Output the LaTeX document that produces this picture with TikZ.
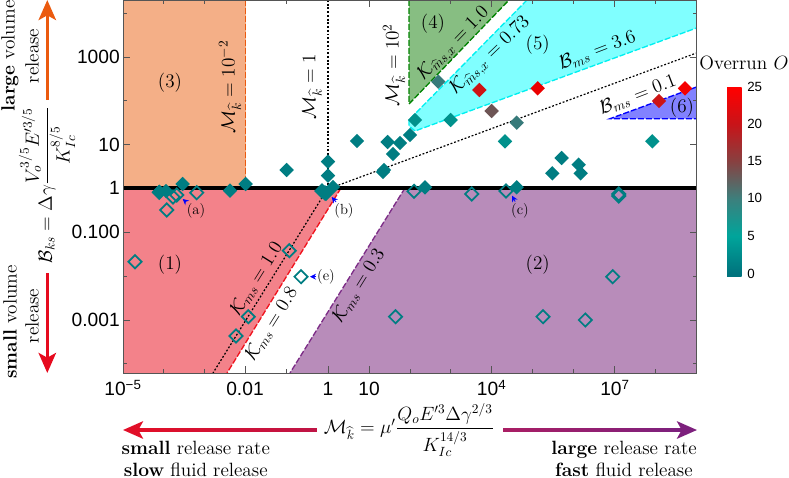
\documentclass[tikz,border=0pt]{standalone}
\usepackage{amsmath}
\usepackage{fontspec}
\setsansfont{Liberation Sans}
\usetikzlibrary{arrows.meta,shapes.geometric}

\definecolor{regionone}{RGB}{243,130,138}
\definecolor{regiontwo}{RGB}{184,140,186}
\definecolor{regionthree}{RGB}{244,175,135}
\definecolor{regionfour}{RGB}{135,190,130}
\definecolor{regionfive}{RGB}{128,255,255}
\definecolor{regionsix}{RGB}{130,130,255}
\definecolor{lineone}{RGB}{240,20,30}
\definecolor{linetwo}{RGB}{125,45,135}
\definecolor{linethree}{RGB}{235,90,15}
\definecolor{linefour}{RGB}{0,130,0}
\definecolor{linefive}{RGB}{0,240,240}
\definecolor{barzero}{RGB}{0,115,125}
\definecolor{barfive}{RGB}{0,165,155}
\definecolor{barten}{RGB}{60,128,125}
\definecolor{barfifteen}{RGB}{135,65,65}
\definecolor{bartwenty}{RGB}{200,20,25}
\definecolor{bartop}{RGB}{255,0,0}
\definecolor{markteal}{RGB}{0,125,130}
\definecolor{markbright}{RGB}{0,145,140}
\definecolor{markgrey}{RGB}{55,122,122}
\definecolor{markbrown}{RGB}{110,85,85}
\definecolor{markdark}{RGB}{205,20,20}
\definecolor{frameline}{RGB}{85,85,85}
\definecolor{arrowdown}{RGB}{230,10,30}
\definecolor{arrowleft}{RGB}{225,15,40}
\definecolor{arrowmidleft}{RGB}{190,20,70}
\definecolor{arrowmidright}{RGB}{170,30,100}
\definecolor{arrowright}{RGB}{125,32,125}
\pgfdeclareverticalshading{overrunbar}{100bp}{color(0bp)=(barzero); color(25.8bp)=(barzero); color(35.8bp)=(barfive); color(45.6bp)=(barten); color(55.5bp)=(barfifteen); color(65.4bp)=(bartwenty); color(75bp)=(bartop); color(100bp)=(bartop)}

\begin{document}
\begin{tikzpicture}[x=0.75pt,y=-0.75pt,
  every node/.style={font=\Large},
  fullmark/.style={diamond,aspect=1,inner sep=0pt,minimum size=11pt,fill=#1},
  fullmark/.default=markteal,
  openmark/.style={diamond,aspect=1,inner sep=0pt,minimum size=10.4pt,draw=markteal,line width=1.3pt},
  border/.style={line width=1pt,dash pattern=on 4.5pt off 1.5pt,draw=#1},
  dotline/.style={line width=0.9pt,dash pattern=on 1.4pt off 1.4pt,black},
  tick/.style={frameline,line width=0.6pt},
  ticklabel/.style={font=\Large\sffamily,inner sep=0pt},
  barlabel/.style={font=\sffamily,inner sep=0pt,anchor=west},
  tag/.style={font=\fontsize{11}{13}\selectfont,inner sep=1pt},
  tagarrow/.style={blue,line width=0.6pt,-{Stealth[length=4.5pt,width=4.5pt]}},
  caption/.style={anchor=base,inner sep=0pt},
  bigarrow/.style={line width=2.5pt,draw=#1,-{Stealth[length=15pt,width=13pt,inset=3.5pt,fill=#1]}}]
\useasboundingbox (0,0) rectangle (789,478);

\fill[regionthree] (123,0) rectangle (245.5,188);
\fill[regionone] (123,188) -- (341,188) -- (227,373) -- (123,373) -- cycle;
\fill[regiontwo] (405,188) -- (696.5,188) -- (696.5,373) -- (290,373) -- cycle;
\fill[regionfour] (409,0) -- (509,0) -- (409,104) -- cycle;
\fill[regionfive] (527,0) -- (696.5,0) -- (696.5,28) -- (415,131) -- (409,126) -- (409,120) -- cycle;
\fill[regionsix] (610,118.7) -- (696.5,87) -- (696.5,118.7) -- cycle;

\draw[border=linethree] (245.5,0) -- (245.5,188);
\draw[border=lineone] (341,188) -- (227,373);
\draw[border=linetwo] (405,188) -- (290,373);
\draw[border=linefour] (409,0) -- (409,104) -- (509,0);
\draw[border=linefive] (527,0) -- (409,120) -- (409,126) -- (415,131) -- (696.5,28);
\draw[border=blue] (696.5,87) -- (610,118.7) -- (696.5,118.7);
\draw[dotline] (328,0) -- (328,188);
\draw[dotline] (328,188) -- (213,373);
\draw[dotline] (328,189) -- (696.5,53);

\draw[line width=3pt] (123,188.3) -- (696.5,188.3);

\draw[tick] (123,0) rectangle (696.5,373);
\draw[tick] (123,13) -- (127,13);
\draw[tick] (123,57) -- (130,57);
\draw[tick] (123,100) -- (127,100);
\draw[tick] (123,144.5) -- (130,144.5);
\draw[tick] (123,232) -- (130,232);
\draw[tick] (123,276) -- (127,276);
\draw[tick] (123,320) -- (130,320);
\draw[tick] (123,363) -- (127,363);
\draw[tick] (696.5,13) -- (692.5,13);
\draw[tick] (696.5,57) -- (689.5,57);
\draw[tick] (696.5,100) -- (692.5,100);
\draw[tick] (696.5,144.5) -- (689.5,144.5);
\draw[tick] (696.5,232) -- (689.5,232);
\draw[tick] (696.5,276) -- (692.5,276);
\draw[tick] (696.5,320) -- (689.5,320);
\draw[tick] (696.5,363) -- (692.5,363);
\draw[tick] (163.5,373) -- (163.5,369);
\draw[tick] (204.5,373) -- (204.5,369);
\draw[tick] (245.5,373) -- (245.5,366);
\draw[tick] (286.5,373) -- (286.5,369);
\draw[tick] (328,373) -- (328,366);
\draw[tick] (369,373) -- (369,366);
\draw[tick] (410,373) -- (410,369);
\draw[tick] (450.5,373) -- (450.5,369);
\draw[tick] (491.5,373) -- (491.5,366);
\draw[tick] (532,373) -- (532,369);
\draw[tick] (573,373) -- (573,369);
\draw[tick] (614,373) -- (614,366);
\draw[tick] (655,373) -- (655,369);
\draw[tick] (163.5,0) -- (163.5,4);
\draw[tick] (204.5,0) -- (204.5,4);
\draw[tick] (286.5,0) -- (286.5,4);
\draw[tick] (369,0) -- (369,7);
\draw[tick] (450.5,0) -- (450.5,4);
\draw[tick] (491.5,0) -- (491.5,7);
\draw[tick] (532,0) -- (532,4);
\draw[tick] (573,0) -- (573,4);
\draw[tick] (614,0) -- (614,7);
\draw[tick] (655,0) -- (655,4);

\node[fullmark] (fa) at (159,192) {};
\node[fullmark] (fb) at (166,191) {};
\node[fullmark] (fc) at (182.7,184) {};
\node[fullmark] (fd) at (230,190.7) {};
\node[fullmark] (fe) at (245.7,184) {};
\node[fullmark] (ff) at (286.7,170) {};
\node[fullmark] (fg) at (328,161.7) {};
\node[fullmark] (fh) at (328,175.7) {};
\node[fullmark] (fi) at (322,191) {};
\node[fullmark] (fj) at (326,194) {};
\node[fullmark] (fk) at (333,187) {};
\node[fullmark] (fl) at (357,141) {};
\node[fullmark] (fm) at (387.7,142) {};
\node[fullmark] (fn) at (393,154) {};
\node[fullmark] (fo) at (384,170) {};
\node[fullmark] (fp) at (383,172) {};
\node[fullmark] (fq) at (400,143) {};
\node[fullmark] (fr) at (410,135) {};
\node[fullmark=markbright] (fs) at (415,120) {};
\node[fullmark=markgrey] (ft) at (438.3,81.7) {};
\node[fullmark=markbright] (fu) at (450.7,120) {};
\node[fullmark=markdark] (fv) at (479.3,90) {};
\node[fullmark=bartop!92!black] (fw) at (537.7,88.3) {};
\node[fullmark=markbrown] (fx) at (491.7,111) {};
\node[fullmark=markgrey] (fy) at (516.7,122.7) {};
\node[fullmark=markbright] (fz) at (505,141.3) {};
\node[fullmark=markbright] (ga) at (652.3,141.3) {};
\node[fullmark] (gb) at (561.7,158) {};
\node[fullmark] (gc) at (578.7,164.7) {};
\node[fullmark] (gd) at (580.7,173.3) {};
\node[fullmark] (ge) at (552.3,173.3) {};
\node[fullmark] (gf) at (425,187.3) {};
\node[fullmark] (gg) at (516.7,187.3) {};
\node[fullmark=markdark] (gh) at (659,101) {};
\node[fullmark=bartop!96!black] (gi) at (685,88.3) {};

\node[openmark] (oa) at (159.3,192.3) {};
\node[openmark] (ob) at (173,197) {};
\node[openmark] (oc) at (176.7,195) {};
\node[openmark] (od) at (196.7,192.7) {};
\node[openmark] (oe) at (166.7,210) {};
\node[openmark] (of) at (322,191) {};
\node[openmark] (og) at (325,193) {};
\node[openmark] (oh) at (414,191.3) {};
\node[openmark] (oi) at (471.7,194) {};
\node[openmark] (oj) at (506,191) {};
\node[openmark] (ok) at (618.7,194) {};
\node[openmark] (ol) at (618.7,196) {};
\node[openmark] (om) at (135,261.7) {};
\node[openmark] (on) at (289.3,250.7) {};
\node[openmark] (oo) at (301,276.7) {};
\node[openmark] (op) at (248.3,316.7) {};
\node[openmark] (oq) at (236,336) {};
\node[openmark] (or) at (395.5,316.7) {};
\node[openmark] (os) at (543,316.7) {};
\node[openmark] (ot) at (585.3,320) {};
\node[openmark] (ou) at (612.7,276.7) {};

\node (labone) at (170,265) {(1)};
\node (labtwo) at (537.7,265) {(2)};
\node (labthree) at (170,83) {(3)};
\node (labfour) at (433,24) {(4)};
\node (labfive) at (537.7,44.3) {(5)};
\node (labsix) at (682,107.7) {(6)};

\node[rotate=90] (mkone) at (230,87) {$\mathcal{M}_{\widehat{k}}=10^{-2}$};
\node[rotate=90] (mktwo) at (312,87) {$\mathcal{M}_{\widehat{k}}=1$};
\node[rotate=90] (mkthree) at (394,65) {$\mathcal{M}_{\widehat{k}}=10^{2}$};
\node[rotate=46] (kxone) at (454,44) {$\mathcal{K}_{\widehat{m}s,x}=1.0$};
\node[rotate=44] (kxtwo) at (490.7,55.7) {$\mathcal{K}_{\widehat{m}s,x}=0.73$};
\node[rotate=21] (bmone) at (597.5,50.7) {$\mathcal{B}_{ms}=3.6$};
\node[rotate=21] (bmtwo) at (638,95) {$\mathcal{B}_{ms}=0.1$};
\node[rotate=58] (kmone) at (256.7,279) {$\mathcal{K}_{ms}=1.0$};
\node[rotate=58] (kmtwo) at (271.7,324) {$\mathcal{K}_{ms}=0.8$};
\node[rotate=58] (kmthree) at (359,285.7) {$\mathcal{K}_{ms}=0.3$};

\node[tag] (taga) at (196,210.5) {(a)};
\node[tag] (tagb) at (344,211) {(b)};
\node[tag] (tagc) at (520,210.5) {(c)};
\node[tag] (tage) at (326,276.7) {(e)};
\coordinate (tipa) at (182.7,199);
\coordinate (tipb) at (331.7,197);
\coordinate (tipc) at (512,195.7);
\coordinate (tipe) at (310,276.7);
\draw[tagarrow] (taga) -- (tipa);
\draw[tagarrow] (tagb) -- (tipb);
\draw[tagarrow] (tagc) -- (tipc);
\draw[tagarrow] (tage) -- (tipe);

\node[ticklabel,anchor=east] (yone) at (120,57) {1000};
\node[ticklabel,anchor=east] (ytwo) at (120,144.5) {10};
\node[ticklabel,anchor=east] (ythree) at (120,188) {1};
\node[ticklabel,anchor=east] (yfour) at (120,232) {0.100};
\node[ticklabel,anchor=east] (yfive) at (120,320) {0.001};
\node[ticklabel] (xone) at (123,388) {10\textsuperscript{−5}};
\node[ticklabel] (xtwo) at (245,389) {0.01};
\node[ticklabel] (xthree) at (328,389) {1};
\node[ticklabel] (xfour) at (369,389) {10};
\node[ticklabel] (xfive) at (491.7,388) {10\textsuperscript{4}};
\node[ticklabel] (xsix) at (615,388) {10\textsuperscript{7}};

\shade[shading=overrunbar] (727,88) rectangle (741.7,276.7);
\node (bartitle) at (744,63) {Overrun $O$};
\node[barlabel] (barf) at (747,87) {25};
\node[barlabel] (bare) at (747,123.5) {20};
\node[barlabel] (bard) at (747,161) {15};
\node[barlabel] (barc) at (747,198) {10};
\node[barlabel] (barb) at (747,236) {5};
\node[barlabel] (bara) at (747,273.6) {0};

\node[rotate=90] (ylabel) at (47,185) {$\mathcal{B}_{ks}=\Delta\gamma\dfrac{V_o^{3/5}E'^{3/5}}{K_{Ic}^{8/5}}$};
\node[rotate=90] (largevol) at (10,56) {\textbf{large} volume};
\node[rotate=90] (largerel) at (32,56) {release};
\node[rotate=90] (smallvol) at (10,322) {\textbf{small} volume};
\node[rotate=90] (smallrel) at (32,316) {release};

\coordinate (upstart) at (47.3,100);
\coordinate (upend) at (47.3,0);
\coordinate (downstart) at (47.3,273);
\coordinate (downend) at (47.3,373);
\draw[bigarrow=linethree] (upstart) -- (upend);
\draw[bigarrow=arrowdown] (downstart) -- (downend);

\node (xlabel) at (409,430) {$\mathcal{M}_{\widehat{k}}=\mu'\dfrac{Q_oE'^{3}\Delta\gamma^{2/3}}{K_{Ic}^{14/3}}$};
\coordinate (leftstart) at (316.7,430);
\coordinate (leftend) at (123,430);
\coordinate (rightstart) at (503,430);
\coordinate (rightend) at (697,430);
\draw[bigarrow=arrowleft] (leftstart) -- (leftend);
\draw[bigarrow=arrowright] (rightstart) -- (rightend);
\shade[left color=arrowleft,right color=arrowmidleft] (145,428.3) rectangle (316.7,431.7);
\shade[left color=arrowmidright,right color=arrowright] (503,428.3) rectangle (675,431.7);

\node[caption] (smallrate) at (195.7,454) {\textbf{small} release rate};
\node[caption] (slowfluid) at (195.7,476) {\textbf{slow} fluid release};
\node[caption] (largerate) at (624,454) {\textbf{large} release rate};
\node[caption] (fastfluid) at (624,476) {\textbf{fast} fluid release};
\end{tikzpicture}
\end{document}
